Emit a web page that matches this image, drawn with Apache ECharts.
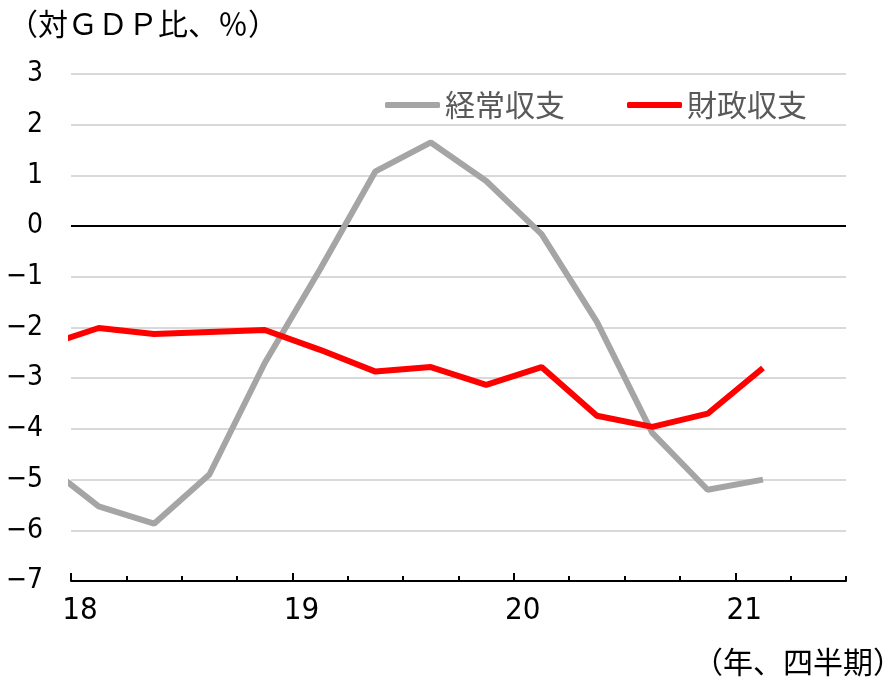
<!DOCTYPE html>
<html>
<head>
<meta charset="utf-8">
<script src="https://cdn.jsdelivr.net/npm/echarts@6/dist/echarts.min.js"></script>
<style>
  html, body { margin: 0; padding: 0; background: #fff; }
  #chart { width: 893px; height: 681px; }
</style>
</head>
<body>
<div id="chart"></div>
<script>
// 四半期（先頭の17Q4は軸の外側でクリップされる）
const quarters = ['17Q4',
    '18Q1', '18Q2', '18Q3', '18Q4',
    '19Q1', '19Q2', '19Q3', '19Q4',
    '20Q1', '20Q2', '20Q3', '20Q4',
    '21Q1'];
const yearLabels = ['18', '19', '20', '21'];

// 経常収支・財政収支（対GDP比、%）
const currentAccount = [-4.67, -5.53, -5.87, -4.9, -2.7, -0.85, 1.08, 1.65, 0.89, -0.16, -1.89, -4.08, -5.2, -5.0];
const fiscalBalance  = [-2.37, -2.01, -2.13, -2.09, -2.05, -2.44, -2.87, -2.78, -3.13, -2.78, -3.74, -3.96, -3.7, -2.8];

const yTicks = { min: -7, max: 3, interval: 1 };
const quarterCount = 14;   // 18Q1〜21Q2

const FONT_NUM = '"Liberation Sans Narrow", "DejaVu Sans Condensed", "Noto Sans", sans-serif';
const FONT_JP = '"Noto Sans CJK JP", "Noto Sans", sans-serif';

// 四半期の中央に点を置く（18Q1 = 0.5）
const toPoints = arr => arr.map((v, i) => [i - 0.5, v]);

const chart = echarts.init(document.getElementById('chart'), null, { renderer: 'canvas' });

const option = {
    animation: false,
    backgroundColor: '#fff',
    grid: { left: 71, right: 47, top: 74, bottom: 100 },
    legend: {
        top: 85,
        left: 380,
        itemWidth: 55,
        itemHeight: 6,
        itemGap: 62,
        icon: 'roundRect',
        textStyle: { fontFamily: FONT_JP, fontSize: 30, color: '#595959' },
        data: ['経常収支', '財政収支']
    },
    xAxis: [
        {
            type: 'value',
            min: 0, max: quarterCount, interval: 1,
            axisLine: { show: true, onZero: false, lineStyle: { color: '#000', width: 2 } },
            axisTick: { show: true, inside: true, length: 5, lineStyle: { color: '#000', width: 2 } },
            axisLabel: { show: false },
            splitLine: { show: false }
        },
        {
            type: 'value',
            min: 0, max: quarterCount, interval: 1,
            position: 'bottom',
            axisLine: { show: false, onZero: false },
            axisTick: {
                show: true, inside: true, length: 8,
                customValues: [0, 4, 8, 12],
                lineStyle: { color: '#000', width: 2 }
            },
            axisLabel: {
                show: true,
                customValues: [0, 4, 8, 12],
                formatter: v => yearLabels[v / 4] || '',
                margin: 14,
                padding: [0, 0, 0, 18],
                fontFamily: FONT_NUM, fontSize: 31, color: '#000'
            },
            splitLine: { show: false }
        }
    ],
    yAxis: {
        type: 'value',
        min: yTicks.min, max: yTicks.max, interval: yTicks.interval,
        axisLine: { show: false },
        axisTick: { show: false },
        axisLabel: {
            margin: 28,
            fontFamily: FONT_NUM, fontSize: 28, color: '#000',
            formatter: v => (v < 0 ? '\u2212' + Math.abs(v) : String(v))
        },
        splitLine: { lineStyle: { color: '#d9d9d9', width: 2 } }
    },
    series: [
        {
            name: '経常収支',
            type: 'line',
            xAxisIndex: 0,
            data: toPoints(currentAccount),
            symbol: 'none',
            clip: true,
            itemStyle: { color: '#a5a5a5' },
            lineStyle: { color: '#a5a5a5', width: 6 },
            z: 3,
            markLine: {
                silent: true,
                symbol: 'none',
                label: { show: false },
                lineStyle: { color: '#000', width: 2, type: 'solid' },
                data: [{ yAxis: 0 }],
                z: 2
            }
        },
        {
            name: '財政収支',
            type: 'line',
            xAxisIndex: 0,
            data: toPoints(fiscalBalance),
            symbol: 'none',
            clip: true,
            itemStyle: { color: '#ff0000' },
            lineStyle: { color: '#ff0000', width: 6 },
            z: 4
        }
    ],
    graphic: [
        {
            type: 'text',
            left: 8, top: 9,
            style: { text: '（対ＧＤＰ比、％）', fontFamily: FONT_JP, fontSize: 30, fill: '#000' }
        },
        {
            type: 'text',
            right: -10, top: 647,
            style: { text: '（年、四半期）', fontFamily: FONT_JP, fontSize: 30, fill: '#000' }
        }
    ]
};

chart.setOption(option);
</script>
</body>
</html>
